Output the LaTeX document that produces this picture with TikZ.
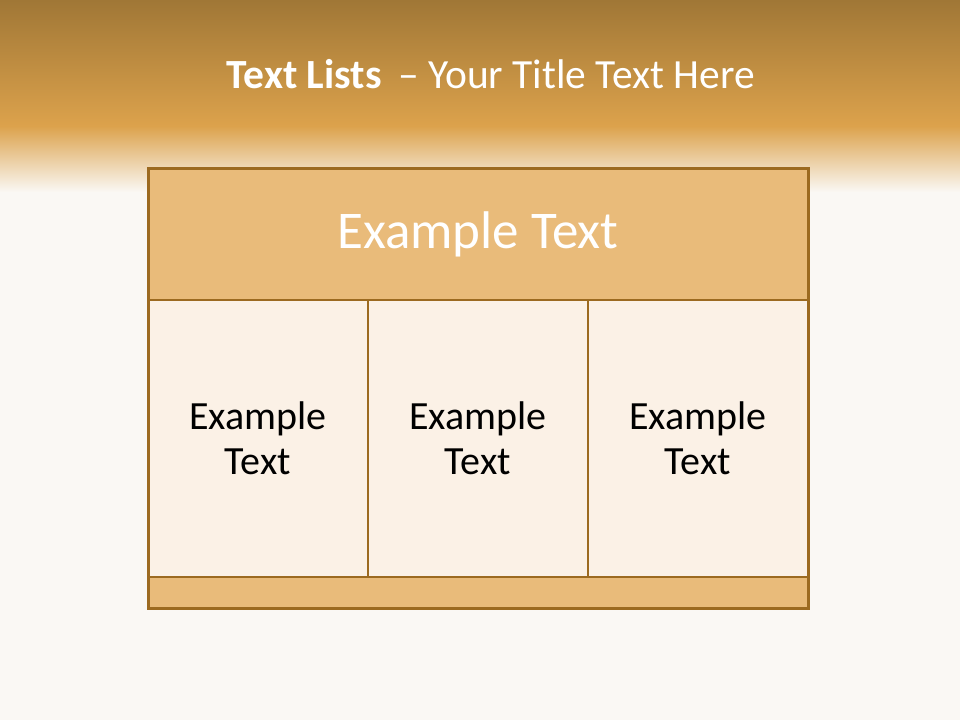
\documentclass[tikz,border=0pt]{standalone}
\usepackage{fontspec}
\setmainfont{Carlito}
\usetikzlibrary{positioning, calc}

\definecolor{bgpaper}{HTML}{FAF8F4}
\definecolor{bandtop}{HTML}{A07736}
\definecolor{bandmid}{HTML}{DCA24C}
\definecolor{boxline}{HTML}{9C6A20}
\definecolor{headfill}{HTML}{E9BB7A}
\definecolor{cellfill}{HTML}{FBF1E6}

\begin{document}
\begin{tikzpicture}[
        x=1pt, y=-1pt,
        header/.style={rectangle, draw=boxline, line width=2.5pt, fill=headfill, minimum width=660pt, minimum height=132pt, inner sep=0pt, outer sep=0pt},
        cell/.style={rectangle, draw=boxline, line width=2.5pt, fill=cellfill, minimum width=220pt, minimum height=277pt, inner sep=0pt, outer sep=0pt, align=center, font=\fontsize{40}{45}\selectfont},
        footer/.style={rectangle, draw=boxline, line width=2.5pt, fill=headfill, minimum width=660pt, minimum height=31pt, inner sep=0pt, outer sep=0pt},
        headtext/.style={font=\fontsize{53}{60}\selectfont, inner sep=0pt}
    ]
        % Background and title band
        \fill[bgpaper] (0,0) rectangle (960,720);
        \shade[top color=bandtop, bottom color=bandmid] (0,0) rectangle (960,126);
        \shade[top color=bandmid, bottom color=bgpaper] (0,126) rectangle (960,192);
        \useasboundingbox (0,0) rectangle (960,720);

        % Title
        \node[text=white, font=\fontsize{41.5}{48}\selectfont, anchor=base] (title) at (491,88) {\textbf{Text Lists}\, – Your Title Text Here};

        % Nodes
        \node[header] (head) at (478,234) {};
        \node[cell, anchor=north west] (cellA) at (148,300) {Example\\Text};
        \node[cell, right=0pt of cellA] (cellB) {Example\\Text};
        \node[cell, right=0pt of cellB] (cellC) {Example\\Text};
        \node[footer, anchor=north] (foot) at (478,577) {};

        % Header label
        \node[headtext, text=white] (headlabel) at (head.center) {Example Text};

        % Outer frame
        \draw[boxline, line width=3pt] (head.north west) rectangle (foot.south east);
    \end{tikzpicture}
\end{document}
